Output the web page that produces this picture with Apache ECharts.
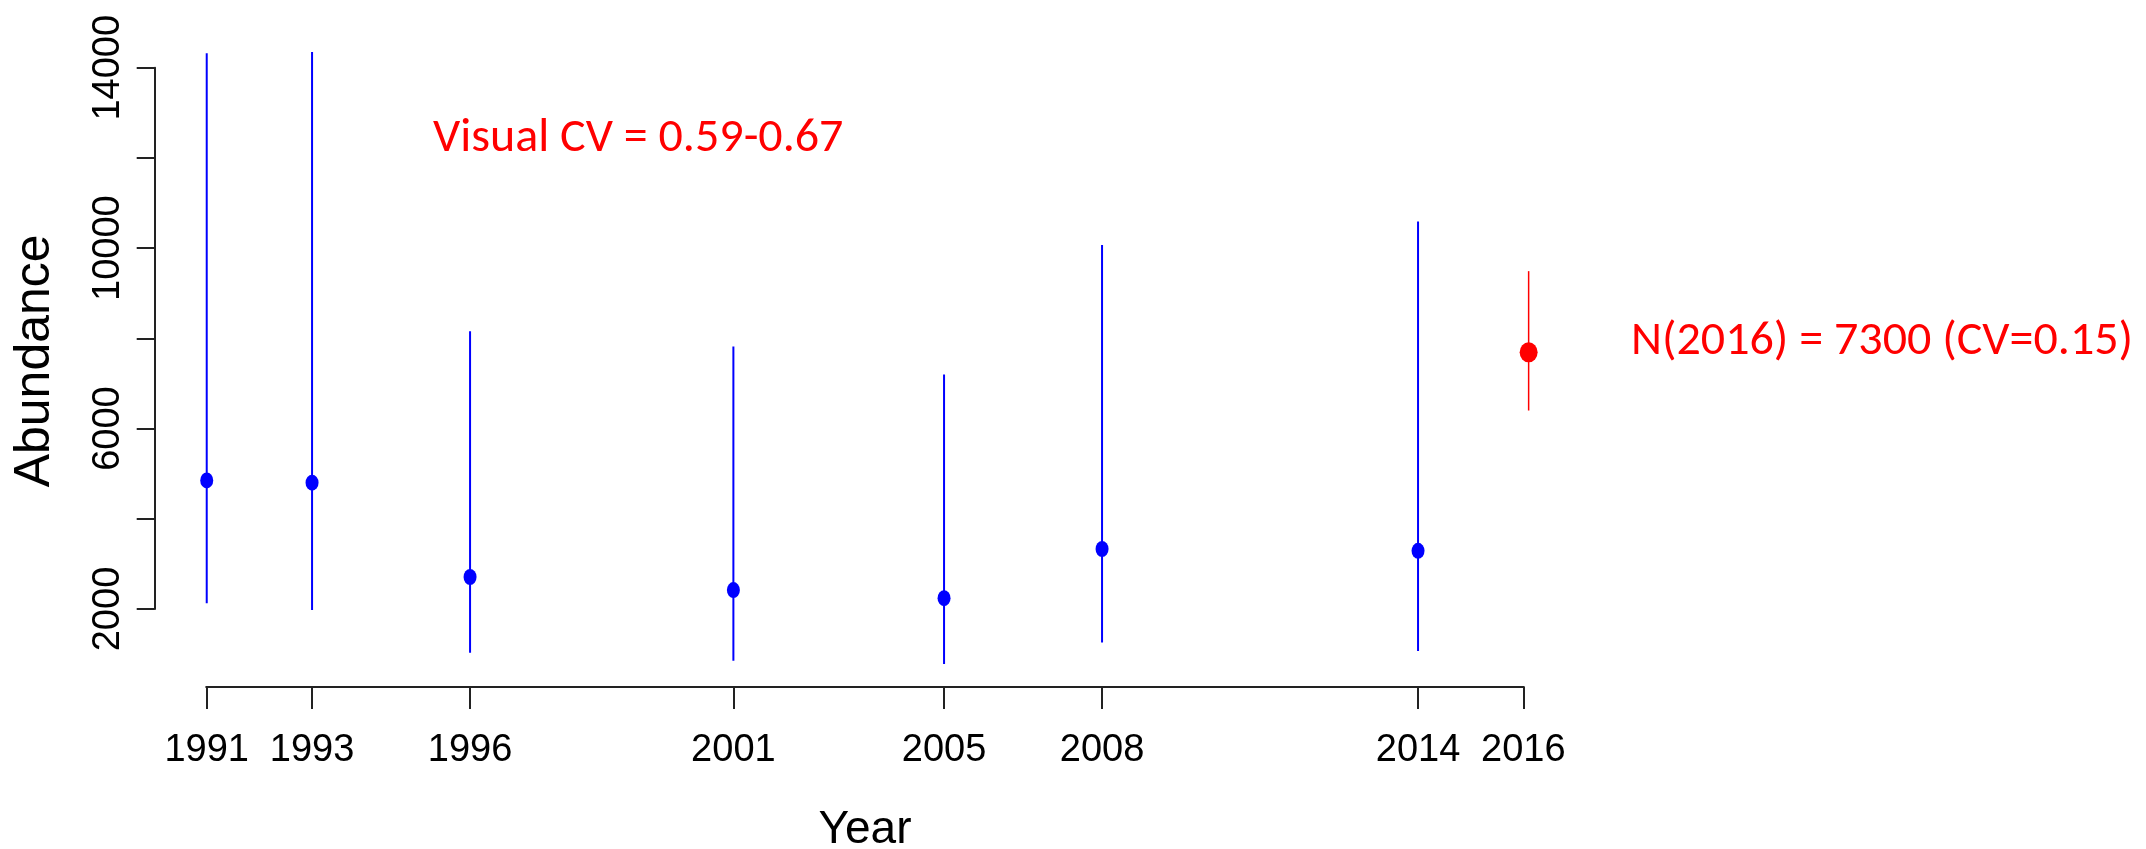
<!DOCTYPE html>
<html>
<head>
<meta charset="utf-8">
<script src="https://cdn.jsdelivr.net/npm/echarts@6/dist/echarts.min.js"></script>
<style>
  html, body { margin: 0; padding: 0; background: #fff; }
  #main { width: 2146px; height: 849px; }
</style>
</head>
<body>
<div id="main"></div>
<script>
var dom = document.getElementById("main");
var myChart = echarts.init(dom);

// survey years and estimates (blue)
var years = [1991, 1993, 1996, 2001, 2005, 2008, 2014];
var est = [4850, 4800, 2710, 2420, 2240, 3330, 3290];
var lower = [2130, 1980, 1030, 850, 780, 1260, 1070];
var upper = [14320, 14350, 8160, 7820, 7200, 10070, 10590];

// new estimate (red)
var newYear = [2016.1];
var newEst = [7690];
var newLower = [6400];
var newUpper = [9490];

var tickYears = [1991, 1993, 1996, 2001, 2005, 2008, 2014, 2016];
var yTicks = [2000, 6000, 10000, 14000];

var blueBars = years.map(function (y, i) { return [y, lower[i], upper[i]]; });
var redBars = newYear.map(function (y, i) { return [y, newLower[i], newUpper[i]]; });
var bluePts = years.map(function (y, i) { return [y, est[i]]; });
var redPts = newYear.map(function (y, i) { return [y, newEst[i]]; });

function barRender(color, width) {
    return function (params, api) {
        var p1 = api.coord([api.value(0), api.value(1)]);
        var p2 = api.coord([api.value(0), api.value(2)]);
        return {
            type: 'line',
            shape: { x1: p1[0], y1: p1[1], x2: p2[0], y2: p2[1] },
            style: { stroke: color, lineWidth: width }
        };
    };
}

var redFont = "Carlito, Calibri, Lato, 'Open Sans', sans-serif";
var axisFont = "'Liberation Sans', Arial, sans-serif";

option = {
    backgroundColor: '#fff',
    animation: false,
    grid: { left: 206.2, right: 622.1, top: 67.7, bottom: 240, outerBoundsMode: 'none', containLabel: false },
    xAxis: {
        type: 'value',
        min: 1990.99,
        max: 2016.01,
        offset: 78,
        splitLine: { show: false },
        axisLine: { lineStyle: { color: '#222', width: 2 } },
        axisTick: { length: 22, lineStyle: { color: '#222', width: 2 }, customValues: tickYears },
        axisLabel: {
            customValues: tickYears,
            showMinLabel: true,
            showMaxLabel: true,
            margin: 45,
            color: '#000',
            fontSize: 38,
            fontFamily: axisFont,
            formatter: function (v) { return String(v); }
        },
        name: 'Year',
        nameLocation: 'middle',
        nameGap: 120,
        nameTextStyle: {
            color: '#000',
            fontSize: 46,
            fontFamily: axisFont
        }
    },
    yAxis: {
        type: 'value',
        min: 2000,
        max: 14000,
        interval: 2000,
        offset: 51.5,
        splitLine: { show: false },
        axisLine: { show: true, lineStyle: { color: '#222', width: 2 } },
        axisTick: { show: true, length: 18, lineStyle: { color: '#222', width: 2 } },
        axisLabel: {
            rotate: 90,
            margin: 27,
            color: '#000',
            fontSize: 38,
            fontFamily: axisFont,
            formatter: function (v) { return yTicks.indexOf(v) >= 0 ? String(v) : ''; }
        },
        name: 'Abundance',
        nameLocation: 'middle',
        nameRotate: 90,
        nameGap: 94,
        nameTextStyle: {
            color: '#000',
            fontSize: 50,
            fontFamily: axisFont,
            padding: [0, 45, 0, 0]
        }
    },
    series: [
        {
            type: 'custom',
            renderItem: barRender('#0000ff', 2),
            data: blueBars,
            clip: false,
            z: 2
        },
        {
            type: 'custom',
            renderItem: barRender('#ff0000', 1.5),
            data: redBars,
            clip: false,
            z: 2
        },
        {
            type: 'scatter',
            data: bluePts,
            symbol: 'circle',
            symbolSize: [13, 16],
            itemStyle: { color: '#0000ff', opacity: 1 },
            clip: false,
            z: 3
        },
        {
            type: 'scatter',
            data: redPts,
            symbol: 'circle',
            symbolSize: [18, 20],
            itemStyle: { color: '#ff0000', opacity: 1 },
            clip: false,
            z: 3
        }
    ],
    graphic: [
        {
            type: 'text',
            left: 433,
            top: 115,
            style: { text: 'Visual CV = 0.59-0.67', fill: '#ff0000', fontSize: 48, fontFamily: redFont }
        },
        {
            type: 'text',
            left: 1631,
            top: 318,
            style: { text: 'N(2016) = 7300 (CV=0.15)', fill: '#ff0000', fontSize: 48, fontFamily: redFont }
        }
    ]
};

if (option && typeof option === "object") {
    myChart.setOption(option, true);
}
window.onresize = function () {
    myChart.resize();
};
</script>
</body>
</html>
